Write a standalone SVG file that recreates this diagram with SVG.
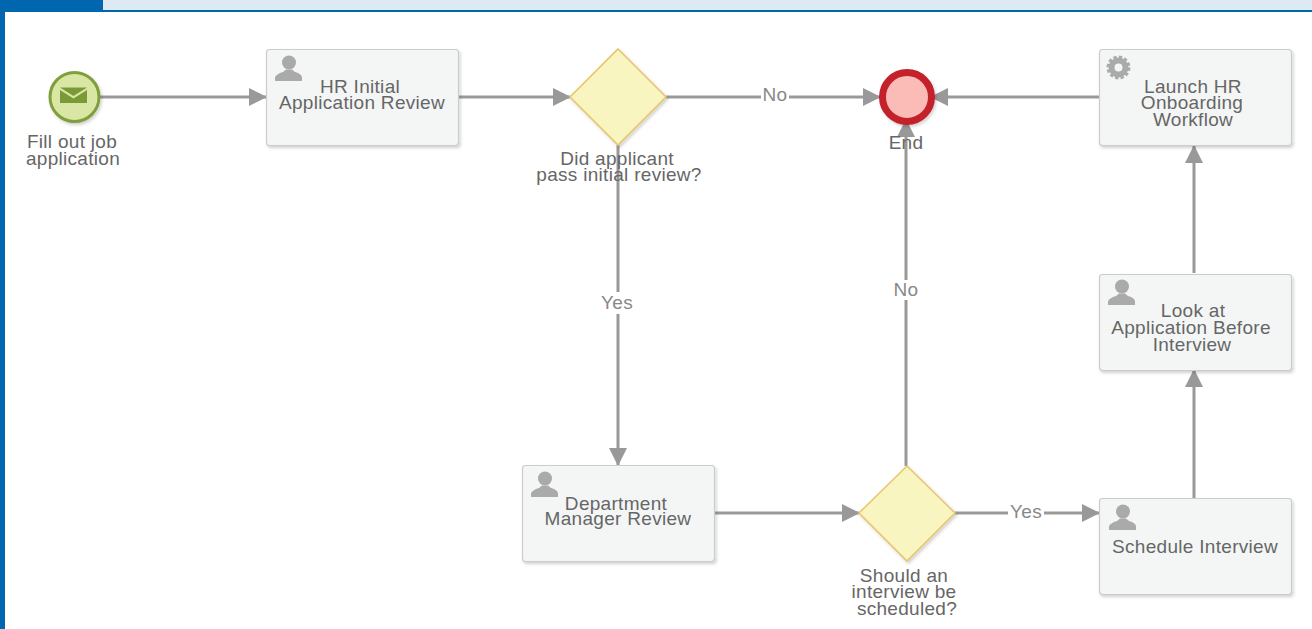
<svg xmlns="http://www.w3.org/2000/svg" width="1312" height="629" viewBox="0 0 1312 629">
<style>
text{font-family:"Liberation Sans",Arial,sans-serif;font-size:19px;letter-spacing:.3px;fill:#666;text-anchor:middle}
.lbl{fill:#888}
.task{fill:#f4f6f6;stroke:#c9cdcd;stroke-width:1.2}
.gw{fill:#f9f5c0;stroke:#e8c66e;stroke-width:1.6}
.c{fill:none;stroke:#999;stroke-width:3}
.ico{fill:#aaa}
</style>
<defs>
<filter id="sh" x="-20%" y="-20%" width="140%" height="140%"><feDropShadow dx="1.5" dy="2" stdDeviation="1.5" flood-color="#000" flood-opacity="0.18"/></filter>
<marker id="a" viewBox="0 0 18 18" refX="17" refY="9" markerWidth="18" markerHeight="18" markerUnits="userSpaceOnUse" orient="auto"><path d="M0 0L18 9L0 18Z" fill="#999"/></marker>
<g id="user"><circle cx="14" cy="7.500" r="7"/><path d="M0 26V22.500Q1 19 8 17L11 14.500H17L20 17Q27 19 27 22.500V26Z"/></g>
</defs>
<rect width="1312" height="629" fill="#fff"/>
<rect x="103" width="1209" height="10" fill="#dde9f3"/>
<rect x="0" y="10" width="1312" height="2" fill="#0066ad"/>
<rect width="103" height="11" fill="#0066ad"/>
<rect y="0" width="5" height="629" fill="#0066ad"/>
<g id="connectors">
<path class="c" marker-end="url(#a)" d="M100 97H266"/>
<path class="c" marker-end="url(#a)" d="M459 97H570"/>
<path class="c" marker-end="url(#a)" d="M666 97H880"/>
<path class="c" marker-end="url(#a)" d="M1099 97H931"/>
<path class="c" marker-end="url(#a)" d="M618 145V465"/>
<path class="c" marker-end="url(#a)" d="M715 513H859"/>
<path class="c" marker-end="url(#a)" d="M955 513H1099"/>
<path class="c" marker-end="url(#a)" d="M906 466V120"/>
<path class="c" marker-end="url(#a)" d="M1194 498V370"/>
<path class="c" marker-end="url(#a)" d="M1194 273V146"/>
<rect x="761" y="86" width="28" height="20" fill="#fff"/>
<rect x="600" y="292" width="35" height="22" fill="#fff"/>
<rect x="892" y="280" width="28" height="20" fill="#fff"/>
<rect x="1008" y="502" width="36" height="20" fill="#fff"/>
<text class="lbl" x="775" y="101">No</text>
<text class="lbl" x="617" y="309">Yes</text>
<text class="lbl" x="906" y="296">No</text>
<text class="lbl" x="1026" y="518">Yes</text>
</g>
<g id="start">
<circle cx="74.500" cy="97" r="24.500" fill="#d9e6a4" stroke="#7f9f3b" stroke-width="3" filter="url(#sh)"/>
<path d="M60 87.500H87L73.500 96Z" fill="#7a9a38"/><path d="M60 90L73.500 98.500L87 90V103H60Z" fill="#7a9a38"/>
<text x="72" y="148">Fill out job</text><text x="73" y="165">application</text>
</g>
<g id="hr-review">
<rect class="task" x="266.500" y="49.500" width="192" height="96" rx="3" filter="url(#sh)"/>
<use href="#user" x="275" y="55" class="ico"/>
<text x="360" y="93">HR Initial</text><text x="362" y="109">Application Review</text>
</g>
<g id="gateway-initial">
<path class="gw" d="M618 49L666 97L618 145L570 97Z" filter="url(#sh)"/>
<text x="617" y="165">Did applicant</text><text x="619" y="181">pass initial review?</text>
</g>
<g id="end">
<circle cx="907" cy="97" r="24.500" fill="#fbbcb8" stroke="#c4202c" stroke-width="7" filter="url(#sh)"/>
<text x="906" y="149">End</text>
</g>
<g id="launch">
<rect class="task" x="1099.500" y="49.500" width="192" height="96" rx="3" filter="url(#sh)"/>
<circle cx="1118.500" cy="67.500" r="7" fill="none" stroke="#aaa" stroke-width="6"/><circle cx="1118.500" cy="67.500" r="10.500" fill="none" stroke="#aaa" stroke-width="3" stroke-dasharray="3.300 2.200"/>
<text x="1193" y="93">Launch HR</text><text x="1192" y="109">Onboarding</text><text x="1193" y="126">Workflow</text>
</g>
<g id="dept-review">
<rect class="task" x="522.500" y="465.500" width="192" height="96" rx="3" filter="url(#sh)"/>
<use href="#user" x="531" y="471" class="ico"/>
<text x="616" y="510">Department</text><text x="618" y="525">Manager Review</text>
</g>
<g id="gateway-interview">
<path class="gw" d="M907 466L955 513L907 561L859 513Z" filter="url(#sh)"/>
<text x="904" y="582">Should an</text><text x="904" y="598">interview be</text><text x="907" y="615">scheduled?</text>
</g>
<g id="schedule">
<rect class="task" x="1099.500" y="498.500" width="192" height="96" rx="3" filter="url(#sh)"/>
<use href="#user" x="1109" y="504" class="ico"/>
<text x="1195" y="553">Schedule Interview</text>
</g>
<g id="look">
<rect class="task" x="1099.500" y="274.500" width="192" height="96" rx="3" filter="url(#sh)"/>
<use href="#user" x="1108" y="279" class="ico"/>
<text x="1193" y="317">Look at</text><text x="1191" y="334">Application Before</text><text x="1192" y="351">Interview</text>
</g>
</svg>
